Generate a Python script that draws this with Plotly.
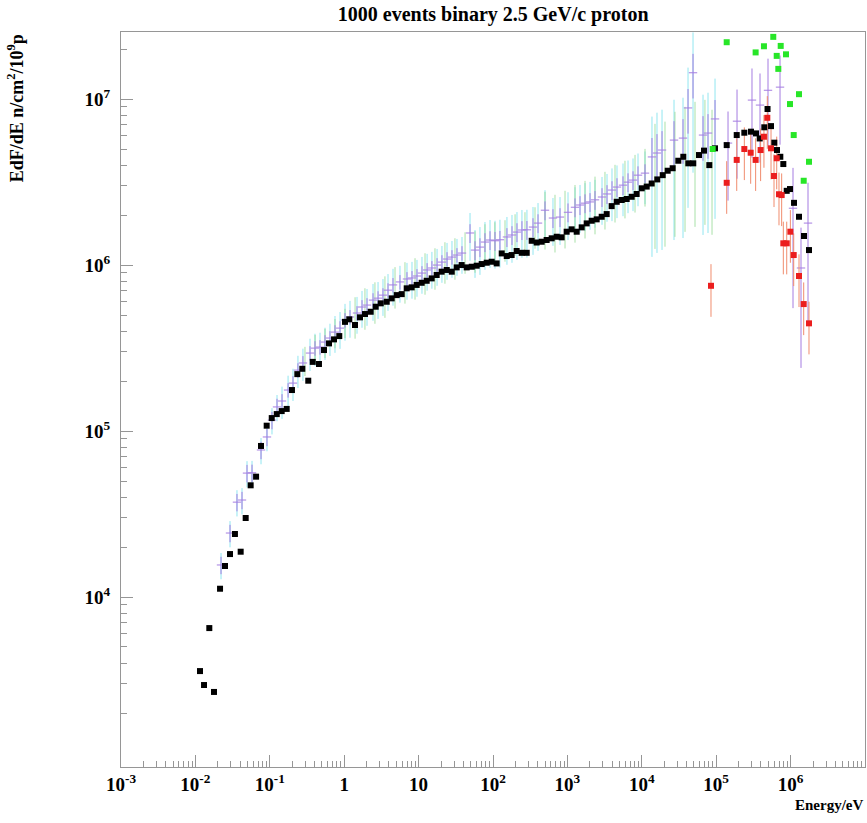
import plotly.graph_objects as go

# ---------------- data ----------------
E_black = [0.01153, 0.01306, 0.01538, 0.01778, 0.02144, 0.0250, 0.0292, 0.0340, 0.0406, 0.0474,
           0.0553, 0.0654, 0.0762, 0.0908, 0.1062, 0.1240, 0.1445, 0.1687, 0.1986, 0.2344,
           0.2735, 0.3289, 0.3776, 0.458, 0.535, 0.625, 0.730, 0.859, 1.025, 1.171,
           1.397, 1.63, 1.905, 2.27, 2.65, 3.10, 3.73, 4.35, 5.08, 5.93,
           6.92, 8.07, 9.42, 11.0, 12.85, 15.0, 17.5, 20.4, 23.9, 27.9,
           32.5, 37.9, 44.3, 51.8, 60.4, 70.5, 82.3, 96, 112, 131,
           153, 178, 208, 243, 284, 331, 386, 451, 526, 615,
           718, 838, 977, 1140, 1333, 1556, 1816, 2120, 2475, 2890,
           3373, 3936, 4600, 5370, 6266, 7313, 8530, 9970, 11640, 13580,
           16150, 19100, 22280, 26000, 30970, 36140, 42170, 49200, 58700, 68500,
           80800, 96400, 138400, 188700, 238800, 293700, 342700, 384500, 443300, 489700,
           545700, 603800, 656400, 727400, 798300, 886800, 982000, 1.112e6, 1.297e6, 1.514e6,
           1.767e6]
F_black = [3580, 2950, 6500, 2680, 11220, 15380, 18150, 23980, 18750, 29930,
           47100, 53100, 81300, 107700, 119700, 126500, 131900, 135900, 176600, 220200,
           237100, 201000, 261000, 253500, 307600, 337300, 356600, 373300, 454800, 471000,
           435400, 484200, 506900, 523200, 561000, 588000, 601000, 630000, 659000, 668000,
           724000, 734000, 759000, 782000, 804000, 831000, 871000, 912000, 934000, 912000,
           968000, 1.0e6, 968000, 977000, 991000, 1.014e6, 1.033e6, 1.047e6, 1.023e6, 1.175e6,
           1.133e6, 1.149e6, 1.215e6, 1.185e6, 1.185e6, 1.40e6, 1.367e6, 1.382e6, 1.415e6, 1.449e6,
           1.481e6, 1.469e6, 1.588e6, 1.641e6, 1.588e6, 1.687e6, 1.782e6, 1.849e6, 1.885e6, 1.954e6,
           2.028e6, 2.265e6, 2.405e6, 2.465e6, 2.50e6, 2.578e6, 2.68e6, 2.90e6, 2.97e6, 3.10e6,
           3.28e6, 3.48e6, 3.70e6, 3.83e6, 4.25e6, 4.49e6, 4.10e6, 4.10e6, 4.60e6, 4.89e6,
           4.00e6, 5.05e6, 5.28e6, 6.07e6, 6.27e6, 6.36e6, 6.21e6, 5.79e6, 6.76e6, 8.71e6,
           6.87e6, 5.46e6, 4.93e6, 4.49e6, 4.06e6, 2.80e6, 2.87e6, 2.37e6, 1.954e6, 1.496e6,
           1.231e6]

E_red = [85100, 138400, 188700, 238800, 290700, 338800, 395300, 438300, 486400, 545700,
         598400, 650500, 698200, 758600, 798300, 886800, 993000, 1.101e6, 1.297e6, 1.500e6,
         1.767e6]
F_red = [7.5e5, 3.13e6, 4.30e6, 5.00e6, 4.75e6, 4.30e6, 4.93e6, 5.93e6, 7.71e6, 5.05e6,
         3.44e6, 4.40e6, 2.67e6, 2.64e6, 1.352e6, 1.352e6, 1.588e6, 1.149e6, 8.59e5, 5.82e5,
         4.455e5]

E_green = [89700, 138400, 338800, 438300, 584800, 650500, 683600, 736000, 867000, 982000,
           1.101e6, 1.297e6, 1.500e6, 1.767e6]
F_green = [5.0e6, 2.20e7, 1.91e7, 2.08e7, 2.37e7, 1.82e7, 1.52e7, 2.09e7, 1.86e7, 9.33e6,
           6.07e6, 1.07e7, 3.22e6, 4.19e6]

# purple crosses (with error bars) -- also the centres of the cyan error bars
E_purple = [0.0221, 0.0292, 0.0362, 0.0423, 0.0494, 0.0577, 0.0762, 0.0916, 0.107, 0.125,
            0.146, 0.176, 0.205, 0.239, 0.279, 0.347, 0.405, 0.473, 0.552, 0.644,
            0.752, 0.879, 1.025, 1.197, 1.486, 1.735, 2.025, 2.44, 2.85, 3.32,
            3.88, 4.53, 5.62, 6.98, 8.15, 9.51, 11.1, 13.0, 15.1, 17.7,
            20.6, 24.1, 28.1, 32.8, 38.3, 49.1, 57.3, 66.8, 78.0, 91.2,
            106.4, 124, 154, 180, 210, 245, 286, 345, 403, 500,
            640, 796, 1019, 1265, 1477, 1725, 2014, 2350, 2918, 3406,
            3975, 4640, 5590, 6530, 7620, 8890, 11040, 13700, 16000, 18700,
            27100, 35800, 41800, 48800, 66500, 77600, 96400, 144200, 190500, 302700,
            388000, 497000, 721000, 1.077e6, 1.38e6, 1.714e6]
F_purple = [15600, 24300, 37300, 38400, 55800, 56000, 76900, 92100, 116400, 139700,
            151700, 176600, 194500, 232800, 257000, 295000, 316000, 320600, 343600, 363300,
            394500, 417000, 466700, 486500, 514000, 558600, 574000, 615000, 632000, 659000,
            706000, 759000, 791000, 824000, 836000, 859000, 895000, 934000, 960000, 1.0e6,
            1.042e6, 1.087e6, 1.117e6, 1.149e6, 1.181e6, 1.56e6, 1.231e6, 1.283e6, 1.376e6, 1.415e6,
            1.40e6, 1.42e6, 1.476e6, 1.517e6, 1.58e6, 1.626e6, 1.63e6, 1.694e6, 1.79e6, 2.14e6,
            1.92e6, 1.946e6, 2.08e6, 2.23e6, 2.30e6, 2.36e6, 2.40e6, 2.47e6, 2.57e6, 2.68e6,
            2.83e6, 2.95e6, 3.03e6, 3.16e6, 3.25e6, 3.48e6, 3.58e6, 4.48e6, 4.73e6, 4.93e6,
            5.66e6, 5.82e6, 8.84e6, 1.44e7, 6.07e6, 6.24e6, 7.59e6, 5.43e6, 7.36e6, 9.86e6,
            9.2e6, 1.13e7, 1.18e7, 2.2e6, 9.6e5, 1.79e6]
# relative errors (%) of the purple crosses
P_purple = [12, 12, 12, 12, 12, 12, 12, 12, 12, 12,
            10, 10, 10, 10, 10, 10, 10, 10, 10, 10,
            10, 10, 10, 10, 10, 10, 10, 10, 10, 10,
            10, 10, 10, 10, 10, 10, 10, 10, 10, 10,
            10, 10, 10, 10, 10, 13, 13, 13, 13, 13,
            13, 13, 13, 13, 13, 13, 13, 13, 13, 13,
            13, 13, 13, 13, 13, 13, 13, 13, 13, 13,
            13, 13, 13, 13, 13, 13, 13, 30, 30, 30,
            30, 30, 30, 30, 30, 30, 30, 55, 55, 55,
            55, 55, 55, 75, 75, 75]
# relative errors (%) of the cyan error bars (same centres as purple, up to 1e5 eV)
P_cyan = [18, 18, 18, 18, 18, 18, 18, 18, 18, 18,
          22, 22, 22, 22, 22, 22, 22, 22, 22, 22,
          25, 25, 25, 25, 25, 25, 25, 25, 25, 25,
          25, 25, 25, 25, 25, 25, 25, 25, 25, 25,
          25, 25, 25, 25, 25, 32, 32, 32, 32, 32,
          32, 32, 32, 32, 32, 32, 32, 32, 32, 32,
          32, 32, 32, 32, 32, 32, 32, 32, 32, 32,
          35, 35, 35, 35, 35, 35, 35, 75, 75, 75,
          75, 75, 75, 75, 75, 75, 75]

# light-green error bars
E_lgreen = [0.297, 0.406, 0.552, 0.752, 1.025, 1.40, 1.90, 2.59, 3.53, 4.82,
            6.56, 8.95, 12.2, 16.6, 22.6, 30.8, 42.1, 57.3, 78.0, 106,
            145, 198, 269, 367, 500, 681, 929, 1265, 1725, 2350,
            3200, 4365, 5940, 8110, 11040, 15040, 20500, 27900, 38100, 51900,
            70600, 87900]
F_lgreen = [268000, 316000, 344000, 394000, 454000, 500000, 566000, 615000, 668000, 759000,
            813000, 859000, 920000, 986000, 1.072e6, 1.133e6, 1.231e6, 1.248e6, 1.376e6, 1.415e6,
            1.455e6, 1.58e6, 1.626e6, 1.742e6, 2.0e6, 1.92e6, 2.03e6, 2.20e6, 2.33e6, 2.47e6,
            2.64e6, 2.91e6, 3.08e6, 3.34e6, 3.63e6, 4.17e6, 4.30e6, 4.93e6, 5.28e6, 5.66e6,
            5.82e6, 5.07e6]
P_lgreen = [20, 20, 20, 20, 20, 28, 28, 28, 28, 28,
            28, 28, 28, 28, 28, 28, 28, 28, 28, 28,
            28, 28, 28, 28, 38, 38, 38, 38, 38, 38,
            38, 38, 38, 38, 38, 70, 70, 70, 70, 70,
            70, 70]
P_red = 35

X_TICKS = [1e-3, 1e-2, 1e-1, 1, 10, 1e2, 1e3, 1e4, 1e5, 1e6]
X_TICKTEXT = ["10<sup>-3</sup>", "10<sup>-2</sup>", "10<sup>-1</sup>", "1", "10",
              "10<sup>2</sup>", "10<sup>3</sup>", "10<sup>4</sup>", "10<sup>5</sup>", "10<sup>6</sup>"]
Y_TICKS = [1e4, 1e5, 1e6, 1e7]
Y_TICKTEXT = ["10<sup>4</sup>", "10<sup>5</sup>", "10<sup>6</sup>", "10<sup>7</sup>"]

# ---------------- figure ----------------
PURPLE = "rgb(165,125,225)"
CYAN = "rgba(110,222,235,0.75)"
LGREEN = "rgba(140,215,140,0.75)"
SERIF = "Liberation Serif"
TRANSP = "rgba(0,0,0,0)"

err_cyan = [f * p / 100 for f, p in zip(F_purple, P_cyan)]
err_lgreen = [f * p / 100 for f, p in zip(F_lgreen, P_lgreen)]
err_purple = [f * p / 100 for f, p in zip(F_purple, P_purple)]

fig = go.Figure()
fig.add_trace(go.Scatter(
    x=E_purple[:len(P_cyan)], y=F_purple[:len(P_cyan)], mode="markers",
    marker=dict(size=1, color=TRANSP),
    error_y=dict(type="data", array=err_cyan, color=CYAN, thickness=1, width=0),
    showlegend=False, hoverinfo="skip"))
fig.add_trace(go.Scatter(
    x=E_lgreen, y=F_lgreen, mode="markers",
    marker=dict(size=1, color=TRANSP),
    error_y=dict(type="data", array=err_lgreen, color=LGREEN, thickness=1, width=0),
    showlegend=False, hoverinfo="skip"))
fig.add_trace(go.Scatter(
    x=E_purple, y=F_purple, mode="markers",
    marker=dict(symbol="line-ew", size=6, line=dict(color=PURPLE, width=1)),
    error_y=dict(type="data", array=err_purple, color=PURPLE, thickness=1, width=0),
    showlegend=False))
fig.add_trace(go.Scatter(
    x=E_red, y=F_red, mode="markers",
    marker=dict(symbol="square", size=1, color=TRANSP),
    error_y=dict(type="percent", value=P_red, color="rgb(240,140,110)", thickness=1, width=0),
    showlegend=False, hoverinfo="skip"))
fig.add_trace(go.Scatter(
    x=E_black, y=F_black, mode="markers",
    marker=dict(symbol="square", size=6, color="black"),
    showlegend=False))
fig.add_trace(go.Scatter(
    x=E_red, y=F_red, mode="markers",
    marker=dict(symbol="square", size=6, color="rgb(235,30,30)"),
    showlegend=False))
fig.add_trace(go.Scatter(
    x=E_green, y=F_green, mode="markers",
    marker=dict(symbol="square", size=6, color="rgb(40,230,40)"),
    showlegend=False))

minor_x = [m * 10.0 ** d for d in range(-3, 7) for m in range(2, 10)]
minor_y = [m * 10.0 ** d for d in range(2, 8) for m in range(2, 10)]

axis_common = dict(
    showgrid=False, zeroline=False, showline=True, linecolor="rgb(150,150,150)",
    linewidth=1, mirror=True, ticks="inside", ticklen=12, tickcolor="rgb(150,150,150)",
    tickfont=dict(family=SERIF, size=19, color="black", weight="bold"),
)

fig.update_layout(
    width=867, height=823,
    margin=dict(l=121, r=2, t=32, b=56),
    paper_bgcolor="white", plot_bgcolor="white",
    title=dict(text="1000 events binary 2.5 GeV/c proton", x=0.5688, xanchor="center",
               y=0.983, yanchor="middle",
               font=dict(family=SERIF, size=20, color="black", weight="bold")),
    xaxis=dict(type="log", range=[-3, 7], tickvals=X_TICKS, ticktext=X_TICKTEXT,
               minor=dict(ticks="inside", ticklen=6, tickvals=minor_x,
                          tickcolor="rgb(150,150,150)"),
               **axis_common),
    yaxis=dict(type="log", range=[2.976, 7.404], tickvals=Y_TICKS, ticktext=Y_TICKTEXT,
               minor=dict(ticks="inside", ticklen=6, tickvals=minor_y,
                          tickcolor="rgb(150,150,150)"),
               ticklabelstandoff=6,
               **axis_common),
    annotations=[
        dict(text="Energy/eV", xref="paper", yref="paper", x=1.0, y=-0.052,
             xanchor="right", yanchor="middle", showarrow=False,
             font=dict(family=SERIF, size=15, color="black", weight="bold")),
        dict(text="EdF/dE n/cm<sup>2</sup>/10<sup>9</sup>p", xref="paper", yref="paper",
             x=-0.142, y=1.0, xanchor="center", yanchor="top", textangle=-90,
             showarrow=False,
             font=dict(family=SERIF, size=18, color="black", weight="bold")),
    ],
)

fig.write_html("out.html", config={"displayModeBar": False},
               post_script="document.body.style.margin='0px';")
